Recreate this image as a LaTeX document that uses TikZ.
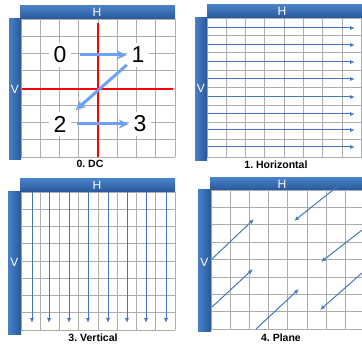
\documentclass[tikz,border=0pt]{standalone}
\usepackage{fontspec}
\setmainfont{Liberation Sans}
\usetikzlibrary{arrows.meta}
\definecolor{barlight}{RGB}{72,128,200}
\definecolor{bardark}{RGB}{40,88,152}
\definecolor{cellgray}{RGB}{172,172,172}
\definecolor{jumpblue}{RGB}{110,160,245}
\definecolor{scanblue}{RGB}{66,118,190}

\begin{document}
\begin{tikzpicture}[x=1pt, y=-1pt,
    hbar/.style = {top color=barlight, bottom color=bardark, draw=none},
    vbar/.style = {left color=barlight, right color=bardark, draw=none},
    cell/.style = {cellgray, line width=0.9pt},
    axis/.style = {red, line width=1.5pt},
    barlabel/.style = {white, font=\fontsize{12}{12}\selectfont, inner sep=0pt},
    digit/.style = {fill=white, minimum width=22pt, minimum height=24pt, inner sep=0pt, font=\fontsize{23}{23}\selectfont},
    jump/.style = {jumpblue, line width=3pt, -{Stealth[length=10pt, width=9pt]}},
    scan/.style = {scanblue, line width=1pt, -{Latex[length=5pt, width=4pt]}},
    caption/.style = {font=\bfseries\fontsize{10.5}{11}\selectfont, inner sep=0pt}]
    \useasboundingbox (0,0) rectangle (362,347);

    % 0. DC
    \foreach \i in {0,...,8} \draw[cell] ({21+19.25*\i},19) -- ({21+19.25*\i},157);
    \foreach \j in {0,...,8} \draw[cell] (21,{19+17.25*\j}) -- (175,{19+17.25*\j});
    \shade[hbar] (20,6) rectangle (175,19);
    \shade[vbar] (9,19) rectangle (21,160);
    \node[barlabel] (hA) at (97,12.5) {H};
    \node[barlabel] (vA) at (15,89) {V};
    \draw[axis] (98,23) -- (98,157);
    \draw[axis] (22,89) -- (173,89);
    \node[digit] (n0) at (60,55) {0};
    \node[digit] (n1) at (138,55) {1};
    \node[digit] (n2) at (60,124) {2};
    \node[digit] (n3) at (140,124) {3};
    \draw[jump, shorten <=9pt] (n0) -- (n1);
    \draw[jump, shorten >=6pt] (n1) -- (n2);
    \draw[jump, shorten <=6pt] (n2) -- (n3);
    \node[caption] (capA) at (90,164) {0.\ DC};

    % 1. Horizontal
    \foreach \i in {0,...,8} \draw[cell] ({207+19.3*\i},18) -- ({207+19.3*\i},157);
    \foreach \j in {0,...,8} \draw[cell] (207,{18+17.4*\j}) -- (362,{18+17.4*\j});
    \shade[hbar] (207,5) rectangle (362,18);
    \shade[vbar] (195,18) rectangle (207,161);
    \node[barlabel] (hB) at (282,11.5) {H};
    \node[barlabel] (vB) at (201,88) {V};
    \foreach \y in {28,45,62,79,97,114,130,147} \draw[scan] (208,\y) -- (355,\y);
    \node[caption] (capB) at (276,165) {1.\ Horizontal};

    % 3. Vertical
    \foreach \i in {0,...,8} \draw[cell] ({21+19.25*\i},192) -- ({21+19.25*\i},330);
    \foreach \j in {0,...,8} \draw[cell] (21,{192+17.25*\j}) -- (175,{192+17.25*\j});
    \shade[hbar] (20,179) rectangle (175,192);
    \shade[vbar] (8,192) rectangle (21,335);
    \node[barlabel] (hC) at (97,185.5) {H};
    \node[barlabel] (vC) at (14.5,262) {V};
    \foreach \x in {32,49,69,88,108,127,146,166} \draw[scan] (\x,192) -- (\x,323);
    \node[caption] (capC) at (93,338) {3.\ Vertical};

    % 4. Plane
    \foreach \i in {0,...,8} \draw[cell] ({211+19.2*\i},190) -- ({211+19.2*\i},329);
    \foreach \j in {0,...,8} \draw[cell] (211,{190+17.4*\j}) -- (362,{190+17.4*\j});
    \shade[hbar] (210,178) rectangle (362,190);
    \shade[vbar] (198,190) rectangle (211,332);
    \node[barlabel] (hD) at (282,184) {H};
    \node[barlabel] (vD) at (204.5,262) {V};
    \draw[scan] (212,259) -- (254,219);
    \draw[scan] (212,307) -- (253,269);
    \draw[scan] (256,329) -- (299,289);
    \draw[scan] (338,186) -- (294,221);
    \draw[scan] (362,230) -- (321,262);
    \draw[scan] (362,273) -- (320,310);
    \node[caption] (capD) at (281,338) {4.\ Plane};
\end{tikzpicture}
\end{document}
